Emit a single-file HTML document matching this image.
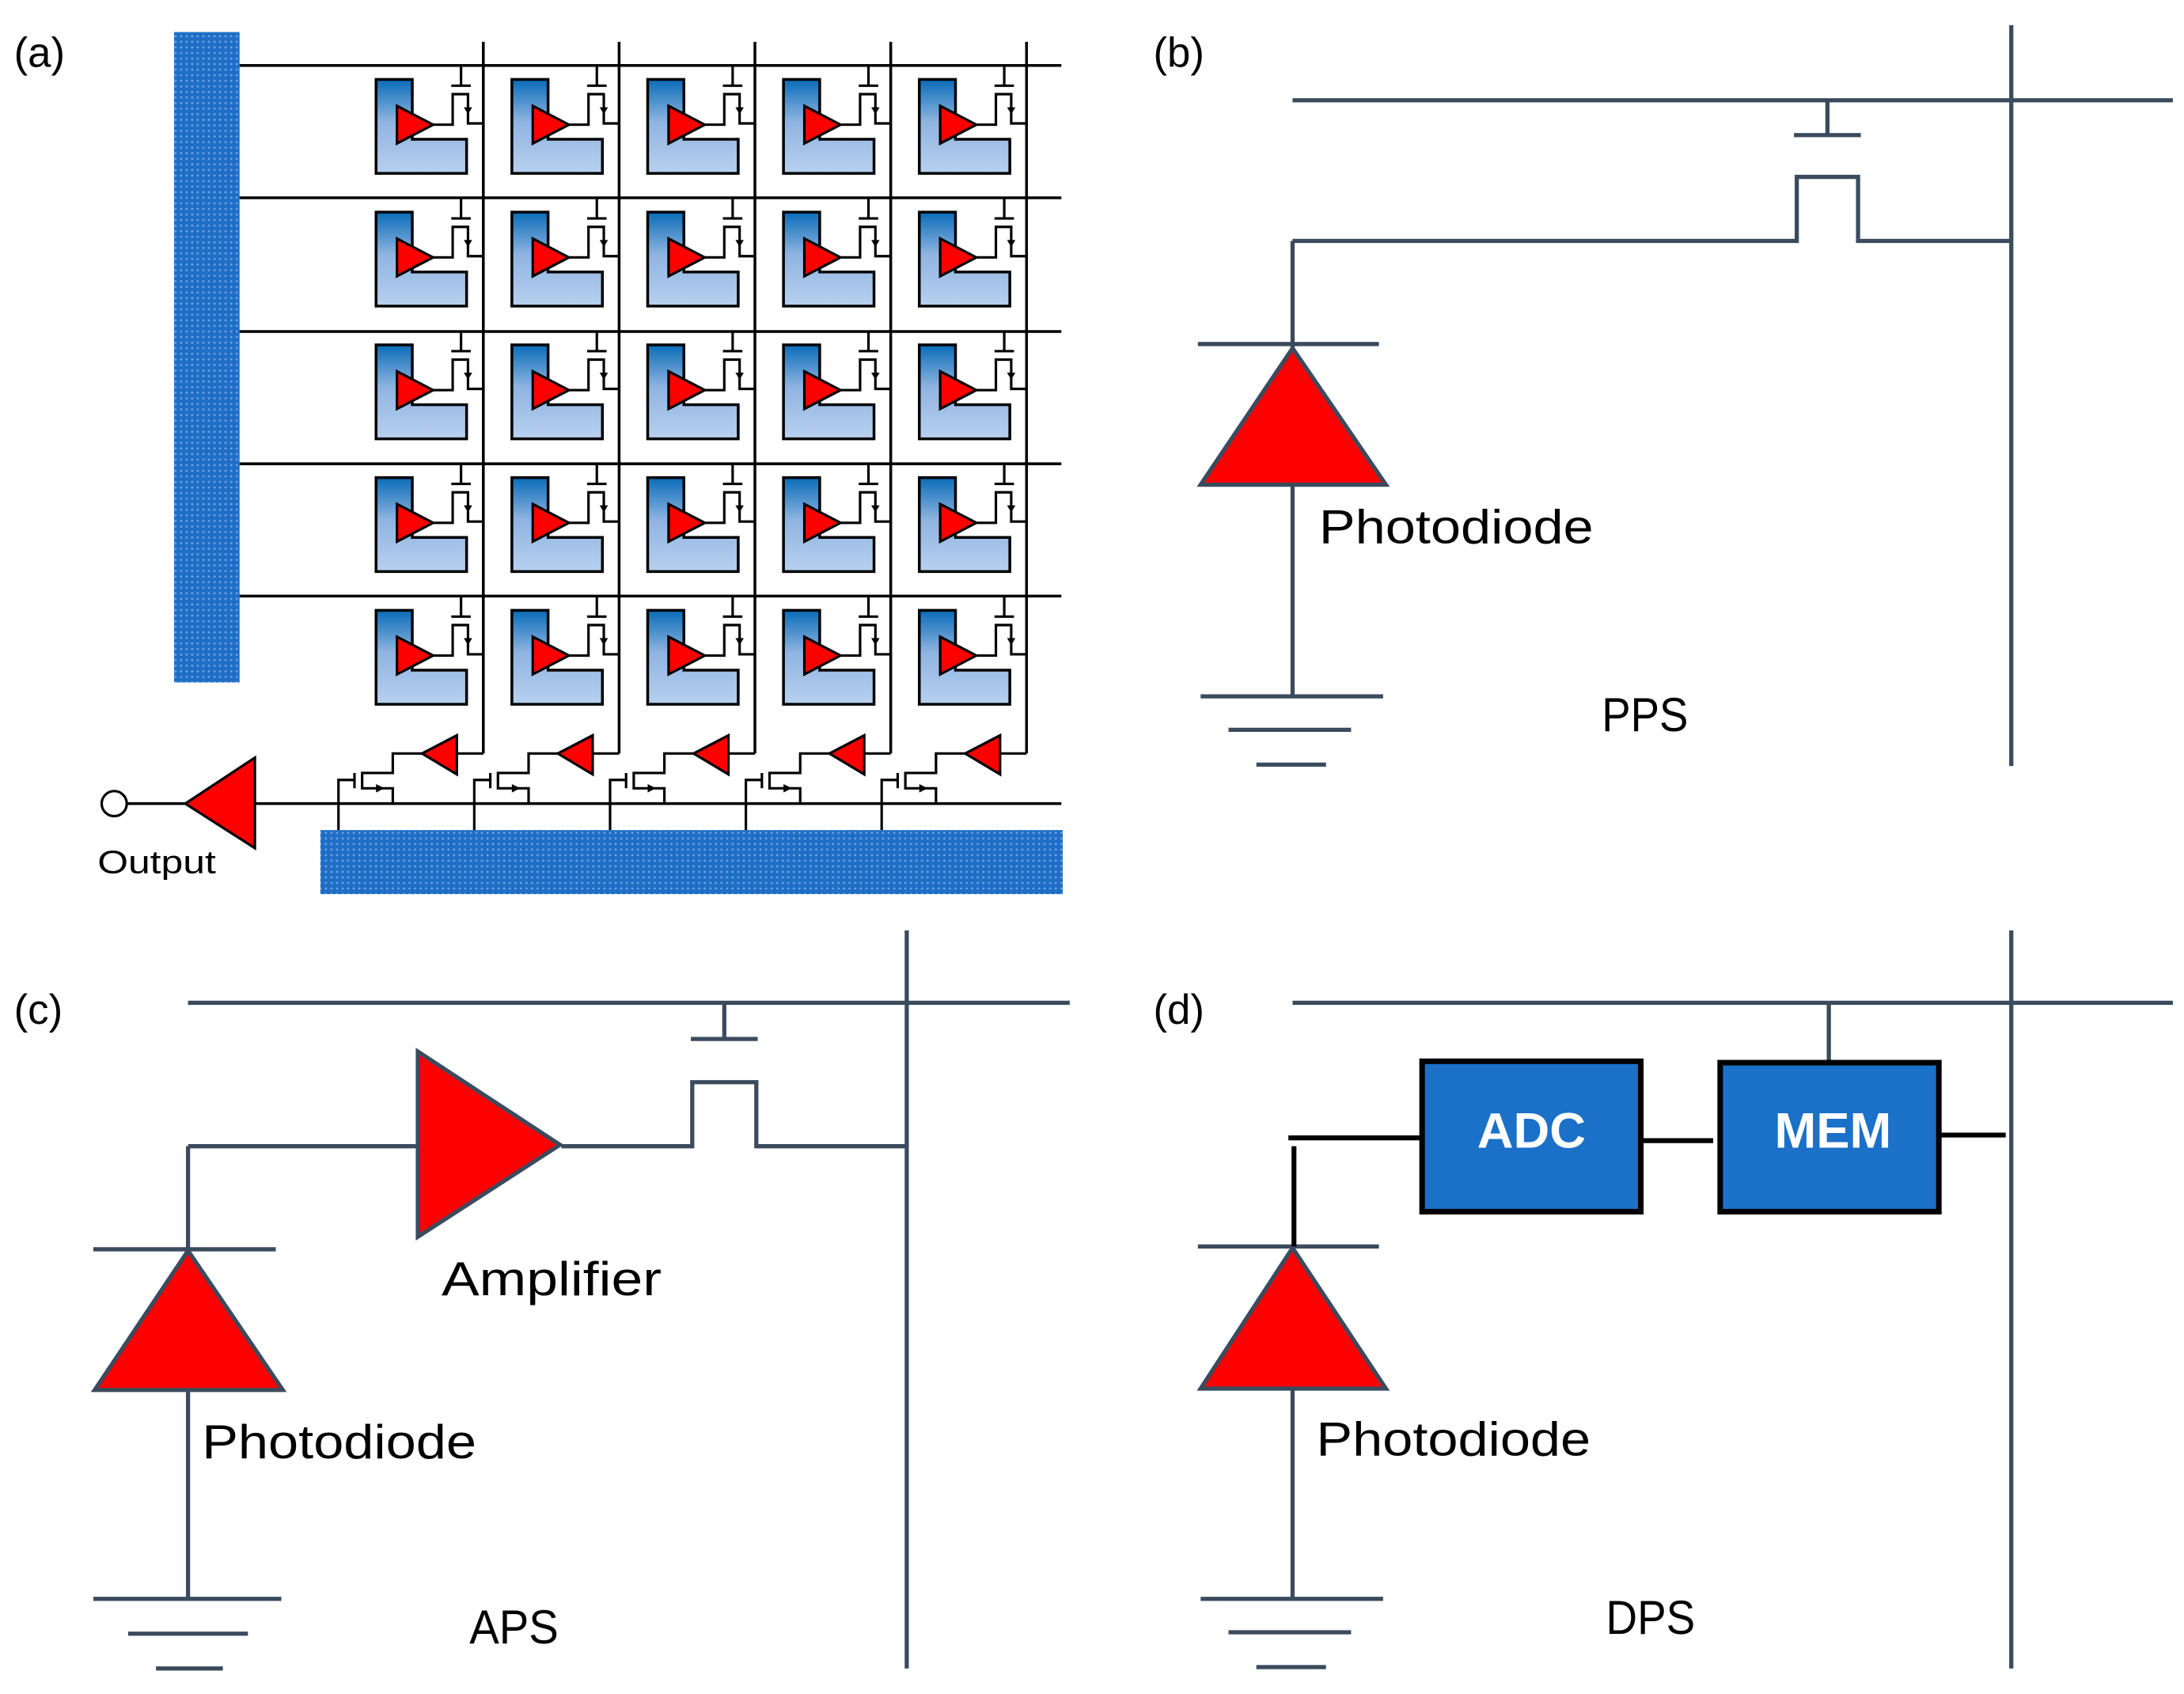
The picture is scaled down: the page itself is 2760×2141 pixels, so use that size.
<!DOCTYPE html>
<html><head><meta charset="utf-8"><style>html,body{margin:0;padding:0;background:#fff}svg{display:block}</style></head>
<body>
<svg width="2760" height="2141" viewBox="0 0 1568 1216.3" xmlns="http://www.w3.org/2000/svg" font-family="Liberation Sans, sans-serif">
<defs>
<linearGradient id="g" x1="0" y1="0" x2="0" y2="1">
<stop offset="0" stop-color="#0a6cb8"/><stop offset="0.45" stop-color="#8fb4e0"/><stop offset="1" stop-color="#b8d0ef"/></linearGradient>
<pattern id="dots" width="4" height="4" patternUnits="userSpaceOnUse">
<rect width="4" height="4" fill="#1f6ec6"/><circle cx="2" cy="2" r="0.8" fill="#6fa2e0"/></pattern>
<g id="cell">
<path d="M270,57 H296 V100 H335 V124.5 H270 Z" fill="url(#g)" stroke="#000" stroke-width="2"/>
<path d="M285,76 L311,89.5 L285,103 Z" fill="#f00" stroke="#000" stroke-width="1.8"/>
<path d="M311,89.5 H325 V67.6 H336 V88.6 H347" fill="none" stroke="#000" stroke-width="1.8"/>
<path d="M331,47 V61.5 M324,61.5 H338" fill="none" stroke="#000" stroke-width="1.8"/>
<path d="M333,77 L339,77 L336,82 Z" fill="#000"/>
</g>
<g id="bot">
<path d="M347,541 H328" fill="none" stroke="#000" stroke-width="1.8"/>
<path d="M303,541 L328,528 L328,556 Z" fill="#f00" stroke="#000" stroke-width="1.8"/>
<path d="M303,541 H282 V555 H260 V566 H282 V577 M254.5,555 V566 M254.5,560 H243 V596" fill="none" stroke="#000" stroke-width="1.8"/>
<path d="M270,563 L276,566 L270,569 Z" fill="#000"/>
</g>
</defs>
<rect width="1568" height="1216.3" fill="#fff"/>

<!-- (a) -->
<text x="10" y="48" font-size="30">(a)</text>
<rect x="125" y="23" width="47" height="467" fill="url(#dots)"/>
<g stroke="#000" stroke-width="2" fill="none">
<path d="M172,47H762 M172,142H762 M172,238H762 M172,333H762 M172,428H762"/>
<path d="M347,30V541 M444.5,30V541 M542,30V541 M639.5,30V541 M737,30V541"/>
<path d="M91,577H133 M183,577H762"/>
</g>
<g>
<use href="#cell"/><use href="#cell" x="97.5"/><use href="#cell" x="195"/><use href="#cell" x="292.5"/><use href="#cell" x="390"/>
</g>
<g transform="translate(0,95.3)"><use href="#cell"/><use href="#cell" x="97.5"/><use href="#cell" x="195"/><use href="#cell" x="292.5"/><use href="#cell" x="390"/></g>
<g transform="translate(0,190.6)"><use href="#cell"/><use href="#cell" x="97.5"/><use href="#cell" x="195"/><use href="#cell" x="292.5"/><use href="#cell" x="390"/></g>
<g transform="translate(0,285.9)"><use href="#cell"/><use href="#cell" x="97.5"/><use href="#cell" x="195"/><use href="#cell" x="292.5"/><use href="#cell" x="390"/></g>
<g transform="translate(0,381.2)"><use href="#cell"/><use href="#cell" x="97.5"/><use href="#cell" x="195"/><use href="#cell" x="292.5"/><use href="#cell" x="390"/></g>
<use href="#bot"/><use href="#bot" x="97.5"/><use href="#bot" x="195"/><use href="#bot" x="292.5"/><use href="#bot" x="390"/>
<rect x="230" y="596" width="533" height="46" fill="url(#dots)"/>
<path d="M133,577 L183,544 L183,609 Z" fill="#f00" stroke="#000" stroke-width="1.8"/>
<circle cx="82" cy="577" r="9" fill="#fff" stroke="#000" stroke-width="1.8"/>
<text x="70" y="627" font-size="23" textLength="85" lengthAdjust="spacingAndGlyphs">Output</text>

<g stroke="#3b4b5e" stroke-width="3" fill="none">
<!-- (b) -->
<path d="M928,72H1560 M1444,18V550 M1312,72V97 M1288,97H1336 M928,173H1290V127H1334V173H1444 M928,173V500 M860,247H990 M862,500H993 M882,524H970 M902,549H952"/>
<!-- (c) -->
<path d="M135,720H768 M651,668V1198 M520,720V746 M496,746H544 M403,823H497V777H543V823H651 M135,823H300 M135,823V1148 M67,897H198 M67,1148H202 M92,1173H178 M112,1198H160"/>
<!-- (d) -->
<path d="M928,720H1560 M1444,668V1198 M1313,720V762 M860,895H990 M928,895V1148 M862,1148H993 M882,1172H970 M902,1197H952"/>
</g>
<path d="M928,250 L862,348 L995,348 Z" fill="#f00" stroke="#3b4b5e" stroke-width="3"/>
<path d="M135,898 L68,998 L203,998 Z" fill="#f00" stroke="#3b4b5e" stroke-width="3"/>
<path d="M300,755 L300,888 L402,822 Z" fill="#f00" stroke="#3b4b5e" stroke-width="3"/>
<path d="M928,896 L862,997 L995,997 Z" fill="#f00" stroke="#3b4b5e" stroke-width="3"/>
<g stroke="#000" stroke-width="3.5" fill="none">
<path d="M925,817H1021 M1178,819H1230 M1392,815H1440 M929,823V895"/>
</g>
<rect x="1021" y="762" width="157" height="108" fill="#1b70c8" stroke="#000" stroke-width="4"/>
<rect x="1235" y="763" width="157" height="107" fill="#1b70c8" stroke="#000" stroke-width="4"/>
<text x="1099.5" y="824" font-size="36" font-weight="bold" fill="#fff" text-anchor="middle">ADC</text>
<text x="1316" y="824" font-size="36" font-weight="bold" fill="#fff" text-anchor="middle">MEM</text>

<g font-size="34" fill="#000">
<text x="828" y="48" font-size="30">(b)</text>
<text x="10" y="735" font-size="30">(c)</text>
<text x="828" y="735" font-size="30">(d)</text>
<text x="947" y="390" textLength="197" lengthAdjust="spacingAndGlyphs">Photodiode</text>
<text x="1150" y="525" textLength="62" lengthAdjust="spacingAndGlyphs">PPS</text>
<text x="317" y="930" textLength="158" lengthAdjust="spacingAndGlyphs">Amplifier</text>
<text x="145" y="1047" textLength="197" lengthAdjust="spacingAndGlyphs">Photodiode</text>
<text x="337" y="1180" textLength="64" lengthAdjust="spacingAndGlyphs">APS</text>
<text x="945" y="1045" textLength="197" lengthAdjust="spacingAndGlyphs">Photodiode</text>
<text x="1153" y="1173" textLength="64" lengthAdjust="spacingAndGlyphs">DPS</text>
</g>
</svg>
</body></html>
